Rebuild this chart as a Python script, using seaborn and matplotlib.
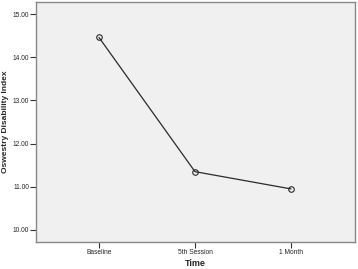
import pandas as pd
import matplotlib
matplotlib.use('Agg')
import matplotlib.pyplot as plt
import seaborn as sns

# data
time_points = ['Baseline', '5th Session', '1 Month']
odi_means = [14.46, 11.35, 10.95]
y_ticks = [10, 11, 12, 13, 14, 15]

df = pd.DataFrame({'Time': time_points, 'ODI': odi_means})

sns.set_style('ticks')
plt.rcParams['font.family'] = ['Liberation Sans', 'DejaVu Sans']

fig = plt.figure(figsize=(3.58, 2.69), dpi=100)
ax = fig.add_axes([0.1006, 0.1004, 0.891, 0.892])
ax.set_facecolor('#f0f0f0')

sns.lineplot(data=df, x='Time', y='ODI', ax=ax, color='#2a2a2a', linewidth=0.9,
             marker='o', markersize=4, markerfacecolor='none',
             markeredgecolor='#2a2a2a', markeredgewidth=0.8)

ax.set_xlim(-0.656, 2.667)
ax.set_ylim(9.72, 15.28)
ax.set_yticks(y_ticks)
ax.set_yticklabels([f'{v:.2f}' for v in y_ticks])
ax.tick_params(axis='both', labelsize=4.8, length=4, width=0.8, color='#333333', pad=1)

for s in ax.spines.values():
    s.set_color('#888888')
    s.set_linewidth(1.0)

ax.set_xlabel('Time', fontsize=6.5, fontweight='bold')
ax.set_ylabel('Oswestry Disability Index', fontsize=6, fontweight='bold')
ax.xaxis.set_label_coords(0.5, -0.071)
ax.yaxis.set_label_coords(-0.085, 0.5)

fig.savefig('out.png', dpi=100)
